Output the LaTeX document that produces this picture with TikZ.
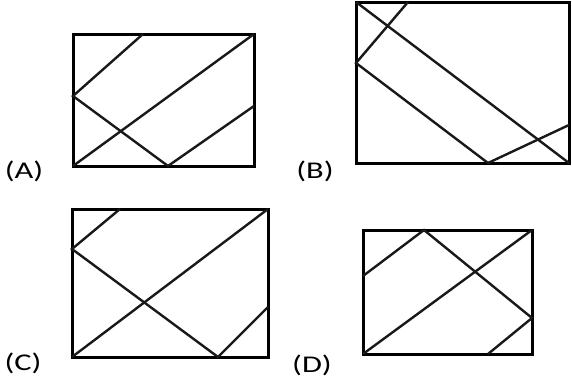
\documentclass[tikz,border=0pt]{standalone}
\usepackage{fontspec}
\setmainfont{Carlito}
\usepackage{tikz}
\usetikzlibrary{calc}

\begin{document}
\begin{tikzpicture}[
x=1pt,y=-1pt,
frame/.style={draw=black,line width=3pt},
cut/.style={draw=black!90,line width=2.4pt},
tag/.style={font=\fontsize{24}{28}\selectfont,inner sep=0pt}
]
\useasboundingbox[fill=white] (0,0) rectangle (572,389);

% (A)
\draw[frame] (73,34) coordinate (aNW) rectangle (254,166) coordinate (aSE);
\coordinate (aSW) at (73,166);
\coordinate (aNE) at (254,34);
\coordinate (aT) at (143,34);
\coordinate (aL) at (73,96);
\coordinate (aB) at (168,166);
\coordinate (aR) at (254,106);
\draw[cut] (aT) -- (aL) -- (aB) -- (aR);
\draw[cut] (aSW) -- (aNE);
\node[tag] (labA) at (24,171) {\scalebox{1.35}[1]{(A)}};

% (B)
\draw[frame] (356,2) coordinate (bNW) rectangle (569,163) coordinate (bSE);
\coordinate (bT) at (408,2);
\coordinate (bL) at (356,63);
\coordinate (bB) at (488,163);
\coordinate (bR) at (569,125);
\draw[cut] (bT) -- (bL) -- (bB) -- (bR);
\draw[cut] (bNW) -- (bSE);
\node[tag] (labB) at (315,171) {\scalebox{1.35}[1]{(B)}};

% (C)
\draw[frame] (72,209) coordinate (cNW) rectangle (268,357) coordinate (cSE);
\coordinate (cSW) at (72,357);
\coordinate (cNE) at (268,209);
\coordinate (cT) at (120,209);
\coordinate (cL) at (72,249);
\coordinate (cB) at (218,357);
\coordinate (cR) at (268,307);
\draw[cut] (cT) -- (cL) -- (cB) -- (cR);
\draw[cut] (cSW) -- (cNE);
\node[tag] (labC) at (23,363) {\scalebox{1.35}[1]{(C)}};

% (D)
\draw[frame] (363,230) coordinate (dNW) rectangle (532,354) coordinate (dSE);
\coordinate (dSW) at (363,354);
\coordinate (dNE) at (532,230);
\coordinate (dL) at (363,276);
\coordinate (dT) at (424,230);
\coordinate (dR) at (532,318);
\coordinate (dB) at (488,354);
\draw[cut] (dL) -- (dT) -- (dR) -- (dB);
\draw[cut] (dSW) -- (dNE);
\node[tag] (labD) at (312,365) {\scalebox{1.35}[1]{(D)}};

\end{tikzpicture}
\end{document}
